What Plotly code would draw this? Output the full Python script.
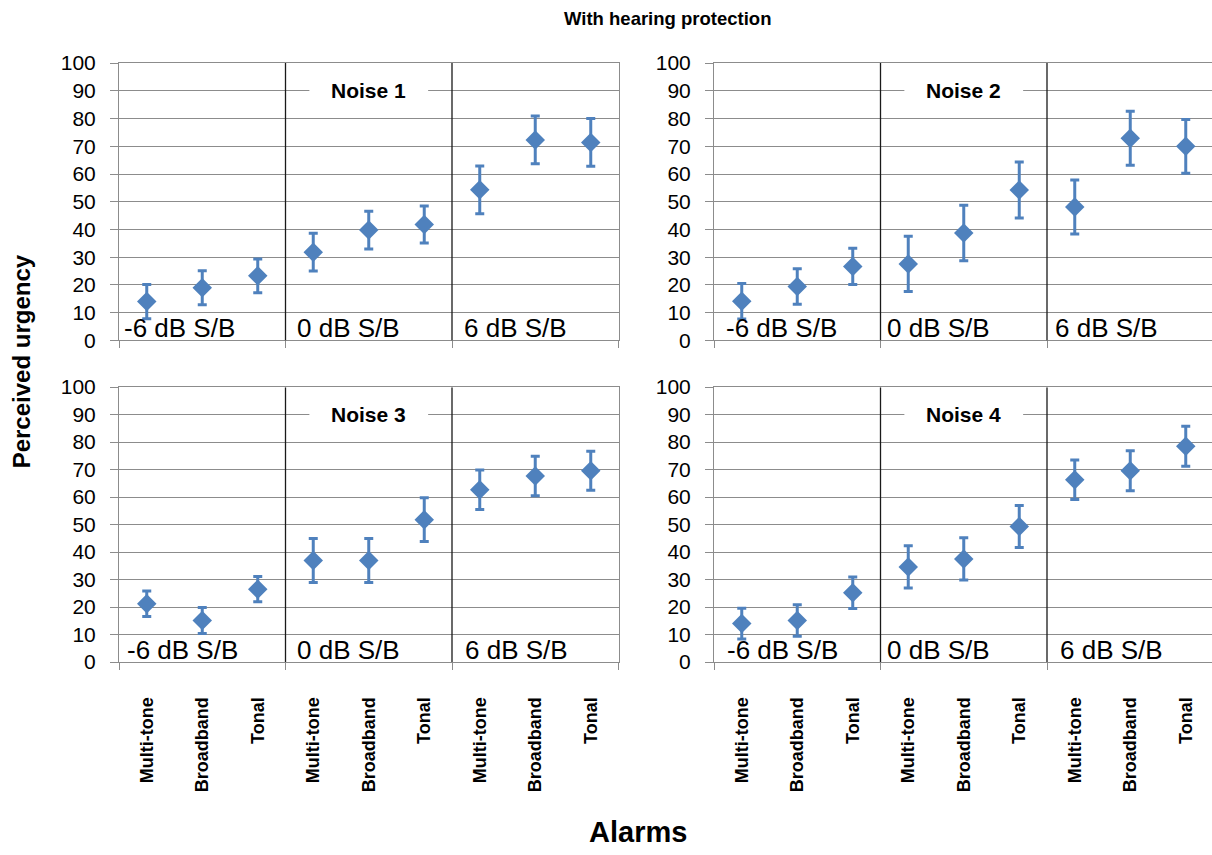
import plotly.graph_objects as go

# Alarm types within each signal-to-noise condition
alarm_types = ["Multi-tone", "Broadband", "Tonal"]
conditions = ["-6 dB S/B", "0 dB S/B", "6 dB S/B"]
categories = alarm_types * 3
noise_names = ["Noise 1", "Noise 2", "Noise 3", "Noise 4"]

# Mean perceived urgency and error-bar half widths (9 alarms per noise)
noise1_mean = [14.0, 19.0, 23.3, 31.8, 39.8, 41.8, 54.3, 72.3, 71.4]
noise1_err = [6.2, 6.1, 6.1, 6.8, 6.8, 6.7, 8.6, 8.6, 8.6]
noise2_mean = [14.1, 19.4, 26.7, 27.6, 38.7, 54.2, 48.1, 72.9, 70.0]
noise2_err = [6.4, 6.4, 6.5, 10.0, 10.0, 10.1, 9.7, 9.7, 9.7]
noise3_mean = [21.2, 15.1, 26.5, 36.9, 36.9, 51.8, 62.7, 67.7, 69.6]
noise3_err = [4.6, 4.7, 4.6, 8.0, 8.0, 8.0, 7.2, 7.2, 7.1]
noise4_mean = [14.0, 15.1, 25.2, 34.6, 37.5, 49.3, 66.3, 69.6, 78.5]
noise4_err = [5.6, 5.7, 5.7, 7.7, 7.7, 7.6, 7.2, 7.3, 7.3]

y_ticks = list(range(0, 101, 10))

means = [noise1_mean, noise2_mean, noise3_mean, noise4_mean]
errs = [noise1_err, noise2_err, noise3_err, noise4_err]

W, H = 1212, 855


def fx(px):
    """pixel column -> paper fraction"""
    return px / W


def fy(py):
    """pixel row (from top) -> paper fraction"""
    return 1 - py / H


BLUE = "#4F81BD"
GRID = "#8C8C8C"
FONT = "Liberation Sans, Arial, sans-serif"

# panel pixel boxes: (left, right, top, bottom); condition groups 166.5 px wide
GROUP_PX = 166.5
TOP_ROW = (52.5, 337.5)
BOTTOM_ROW = (385.5, 668)
boxes = [(119, 119 + 3 * GROUP_PX) + TOP_ROW, (714, 714 + 3 * GROUP_PX) + TOP_ROW,
         (119, 119 + 3 * GROUP_PX) + BOTTOM_ROW, (714, 714 + 3 * GROUP_PX) + BOTTOM_ROW]
# horizontal offset (px) of each condition label from its group start
label_offsets = [[3, 9, 10], [10, 4, 6], [6, 9, 11], [11, 4, 11]]

fig = go.Figure()
xs = list(range(len(categories)))
n = len(categories)

for i in range(4):
    ax = "" if i == 0 else str(i + 1)
    fig.add_trace(go.Scatter(
        x=xs, y=means[i],
        mode="markers",
        marker=dict(symbol="diamond", size=15, color=BLUE),
        error_y=dict(type="data", array=errs[i], color=BLUE,
                     thickness=3, width=4.5),
        xaxis="x" + ax, yaxis="y" + ax, showlegend=False,
        hoverinfo="x+y",
    ))

layout = dict(
    width=W, height=H, margin=dict(l=0, r=0, t=0, b=0),
    paper_bgcolor="white", plot_bgcolor="white",
    font=dict(family=FONT, color="black"),
    shapes=[], annotations=[],
)

for i, (l, r, t, b) in enumerate(boxes):
    ax = "" if i == 0 else str(i + 1)
    bottom_row = i >= 2
    # clip panels that run past the page edge
    r_vis = min(r, W)
    x_hi = -0.5 + n * (r_vis - l) / (r - l)
    layout["xaxis" + ax] = dict(
        domain=[fx(l), fx(r_vis)], anchor="y" + ax,
        range=[-0.5, x_hi],
        tickmode="array", tickvals=xs, ticktext=categories,
        showticklabels=bottom_row, tickangle=-90,
        tickfont=dict(size=18, family=FONT, weight="bold"),
        ticks="", ticklabelstandoff=27,
        minor=dict(tickmode="array", tickvals=[-0.5, 2.5, 5.5, 8.5],
                   ticks="outside", ticklen=7, tickcolor=GRID, showgrid=False),
        showgrid=False, zeroline=False,
        showline=True, linecolor=GRID, linewidth=1, mirror=True,
        fixedrange=True,
    )
    layout["yaxis" + ax] = dict(
        domain=[fy(b), fy(t)], anchor="x" + ax,
        range=[0, 100], tickmode="array", tickvals=y_ticks,
        tickfont=dict(size=21, family=FONT),
        ticks="outside", ticklen=8, tickcolor=GRID, ticklabelstandoff=10,
        showgrid=True, gridcolor=GRID, gridwidth=1,
        zeroline=False,
        showline=True, linecolor=GRID, linewidth=1,
        mirror=(r_vis == r),
        fixedrange=True,
    )
    xr, yr = "x" + ax, "y" + ax
    # dividers between the S/B conditions
    for xv in (2.5, 5.5):
        layout["shapes"].append(dict(
            type="line", xref=xr, yref=yr, x0=xv, x1=xv, y0=0, y1=100,
            line=dict(color="#1A1A1A", width=1.3), layer="above"))
    # white plate behind the noise label
    layout["shapes"].append(dict(
        type="rect", xref=xr, yref=yr, x0=2.93, x1=5.07, y0=87.5, y1=92.5,
        fillcolor="white", line=dict(width=0), layer="between"))
    layout["annotations"].append(dict(
        text="<b>" + noise_names[i] + "</b>", xref=xr, yref=yr,
        x=4.0, y=90, showarrow=False, xanchor="center", yanchor="middle",
        font=dict(size=21, family=FONT, color="black")))
    for g, cond in enumerate(conditions):
        px = l + g * GROUP_PX + label_offsets[i][g]
        layout["annotations"].append(dict(
            text=cond, xref="paper", yref=yr, x=fx(px), y=0,
            xanchor="left", yanchor="bottom", yshift=-5, showarrow=False,
            font=dict(size=26, family=FONT, color="black")))

layout["annotations"] += [
    dict(text="<b>With hearing protection</b>", xref="paper", yref="paper",
         x=fx(667), y=fy(6.5), showarrow=False, xanchor="center",
         yanchor="middle", font=dict(size=18.5, family=FONT)),
    dict(text="<b>Perceived urgency</b>", xref="paper", yref="paper",
         x=fx(21), y=fy(359), showarrow=False, textangle=-90,
         xanchor="center", yanchor="middle", font=dict(size=24, family=FONT)),
    dict(text="<b>Alarms</b>", xref="paper", yref="paper",
         x=fx(638), y=0, showarrow=False, xanchor="center",
         yanchor="bottom", yshift=-6, font=dict(size=29, family=FONT)),
]

fig.update_layout(**layout)
fig.write_html("out.html")
